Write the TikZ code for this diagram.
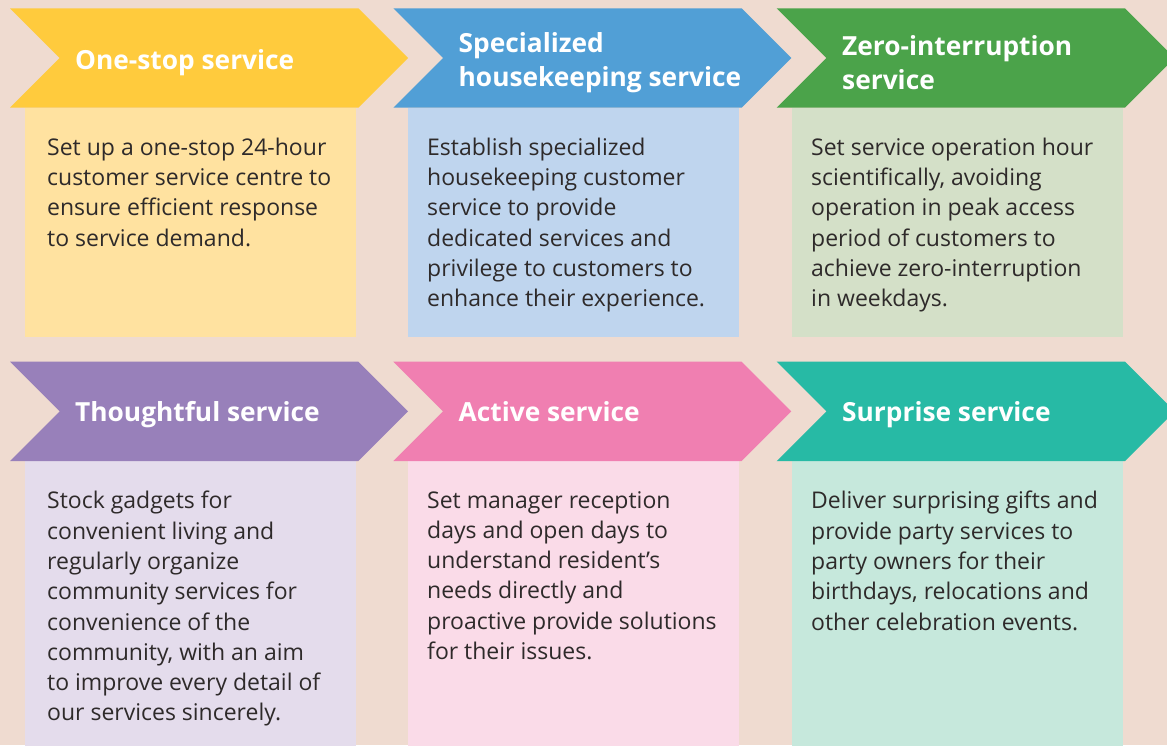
\documentclass[tikz,border=0pt]{standalone}
\usepackage{fontspec}
\setmainfont{Open Sans}
\definecolor{bgc}{HTML}{EFDBD0}
\definecolor{bodytxt}{HTML}{2E2A2A}
\definecolor{yelA}{HTML}{FFCB3D}\definecolor{yelB}{HTML}{FFE2A0}
\definecolor{bluA}{HTML}{519FD6}\definecolor{bluB}{HTML}{BFD5EE}
\definecolor{grnA}{HTML}{4BA34A}\definecolor{grnB}{HTML}{D4E0C8}
\definecolor{purA}{HTML}{9880BA}\definecolor{purB}{HTML}{E4DCEC}
\definecolor{pnkA}{HTML}{F07FB1}\definecolor{pnkB}{HTML}{FADBE8}
\definecolor{tealA}{HTML}{27BAA5}\definecolor{tealB}{HTML}{C6E8DC}
\tikzset{
  headfont/.style={inner sep=0pt, text=white, align=left,
    font=\fontsize{26.3}{34}\selectfont\bfseries},
  headtext/.style={headfont, anchor=base west},
  headtwo/.style={headfont, anchor=west},
  bodytext/.style={anchor=north west, inner sep=0pt, text=bodytxt, align=left,
    font=\fontsize{23}{30.3}\selectfont},
}
% chevron banner: #1 left x, #2 top y, #3 colour
\newcommand{\chevronband}[3]{%
  \fill[#3] (#1,#2) -- ++(348.3,0) -- ++(49.7,49.7) -- ++(-49.7,49.7)
    -- ++(-348.3,0) -- ++(49.7,-49.7) -- cycle;}
% content panel: #1 left x, #2 top y, #3 bottom y, #4 colour
\newcommand{\contentpanel}[4]{%
  \fill[#4] ({#1+15},#2) rectangle ({#1+346},#3);}
\begin{document}
\begin{tikzpicture}[x=1pt,y=-1pt]
\useasboundingbox (0,0) rectangle (1167,745);
\fill[bgc] (0,0) rectangle (1167,745);

% upper row
\contentpanel{10}{107.7}{337}{yelB}
\contentpanel{393.3}{107.7}{337}{bluB}
\contentpanel{776.7}{107.7}{337}{grnB}
\chevronband{10}{8.3}{yelA}
\chevronband{393.3}{8.3}{bluA}
\chevronband{776.7}{8.3}{grnA}

% lower row
\contentpanel{10}{460.7}{746}{purB}
\contentpanel{393.3}{460.7}{746}{pnkB}
\contentpanel{776.7}{460.7}{746}{tealB}
\chevronband{10}{361.7}{purA}
\chevronband{393.3}{361.7}{pnkA}
\chevronband{776.7}{361.7}{tealA}

% headings
\node[headtext] (h1) at (75,69) {One-stop service};
\node[headtwo] (h2) at (458.5,63) {Specialized\\housekeeping service};
\node[headtwo] (h3) at (842,63) {Zero-interruption\\service};
\node[headtext] (h4) at (75,421.7) {Thoughtful service};
\node[headtext] (h5) at (458.5,421.7) {Active service};
\node[headtext] (h6) at (842,421.7) {Surprise service};

% descriptions
\node[bodytext] (b1) at (47,137.5) {Set up a one-stop 24-hour\\customer service centre to\\ensure efficient response\\to service demand.};
\node[bodytext] (b2) at (427,137.5) {Establish specialized\\housekeeping customer\\service to provide\\dedicated services and\\privilege to customers to\\enhance their experience.};
\node[bodytext] (b3) at (811,137.5) {Set service operation hour\\scientifically, avoiding\\operation in peak access\\period of customers to\\achieve zero-interruption\\in weekdays.};
\node[bodytext] (b4) at (47,491) {Stock gadgets for\\convenient living and\\regularly organize\\community services for\\convenience of the\\community, with an aim\\to improve every detail of\\our services sincerely.};
\node[bodytext] (b5) at (427,491) {Set manager reception\\days and open days to\\understand resident’s\\needs directly and\\proactive provide solutions\\for their issues.};
\node[bodytext] (b6) at (811,491) {Deliver surprising gifts and\\provide party services to\\party owners for their\\birthdays, relocations and\\other celebration events.};
\end{tikzpicture}
\end{document}
